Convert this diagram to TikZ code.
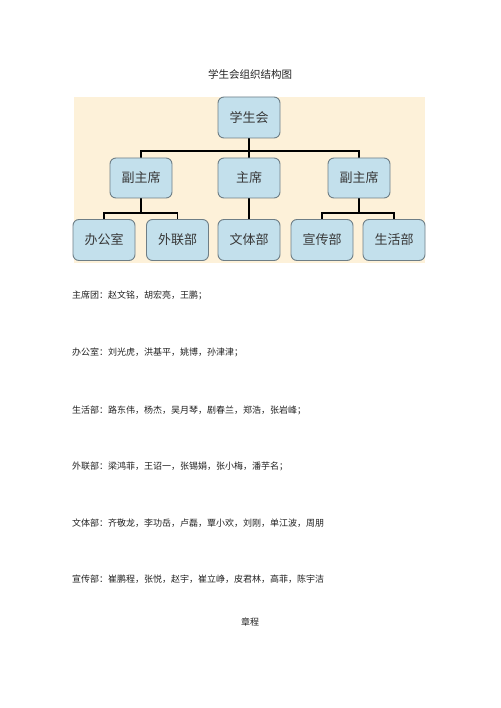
\documentclass[tikz,border=0pt]{standalone}
\usepackage{fontspec}
\setmainfont{Noto Sans CJK SC}
\definecolor{bgbeige}{HTML}{FDF1D9}
\definecolor{boxfill}{HTML}{C3E0EC}
\definecolor{boxline}{HTML}{6E7E86}
\definecolor{txt}{HTML}{222222}
\pgfdeclarelayer{paper}
\pgfdeclarelayer{lines}
\pgfsetlayers{paper,lines,main}
\tikzset{
  orgbox/.style={draw=boxline, line width=0.9pt, fill=boxfill, rounded corners=6pt,
    minimum width=62pt, minimum height=41pt, inner sep=0pt, font=\fontsize{13}{13}\selectfont, text=txt!90},
  midbox/.style={orgbox, minimum height=40pt},
  link/.style={draw=black, line width=1.5pt},
  body/.style={anchor=west, inner sep=0pt, font=\fontsize{9}{9}\selectfont, text=txt}
}
\begin{document}
\begin{tikzpicture}[x=1pt,y=-1pt]
\useasboundingbox (0,0) rectangle (500,708);
\begin{pgfonlayer}{paper}
\fill[white] (0,0) rectangle (500,708);
\fill[bgbeige] (74,97) rectangle (425,263);
\end{pgfonlayer}
\node[inner sep=0pt, font=\fontsize{10.5}{10.5}\selectfont, text=txt] (title) at (250,74) {学生会组织结构图};
% nodes
\node[orgbox] (root) at (249,117.5) {学生会};
\node[midbox] (vpL) at (141,178) {副主席};
\node[midbox] (chair) at (249,178) {主席};
\node[midbox] (vpR) at (359,178) {副主席};
\node[orgbox] (office) at (104,240) {办公室};
\node[orgbox] (liaison) at (177.5,240) {外联部};
\node[orgbox] (culture) at (249,240) {文体部};
\node[orgbox] (publicity) at (322,240) {宣传部};
\node[orgbox] (life) at (394,240) {生活部};
% connectors
\coordinate (topbar) at (249,151);
\coordinate (leftbar) at (141,213);
\coordinate (rightbar) at (359,213);
\begin{pgfonlayer}{lines}
\draw[link] (root.south) -- (topbar);
\draw[link] (vpL.north) |- (topbar) -| (vpR.north);
\draw[link] (chair.north) -- (topbar);
\draw[link] (vpL.south) -- (leftbar);
\draw[link] (office.north) |- (leftbar) -| (liaison.north);
\draw[link] (chair.south) -- (culture.north);
\draw[link] (vpR.south) -- (rightbar);
\draw[link] (publicity.north) |- (rightbar) -| (life.north);
\end{pgfonlayer}
% body text
\node[body] (l1) at (72,295) {主席团：赵文铭，胡宏亮，王鹏；};
\node[body] (l2) at (72,352) {办公室：刘光虎，洪基平，姚博，孙津津；};
\node[body] (l3) at (72,410) {生活部：路东伟，杨杰，吴月琴，剧春兰，郑浩，张岩峰；};
\node[body] (l4) at (72,466) {外联部：梁鸿菲，王诏一，张锡娟，张小梅，潘芋名；};
\node[body] (l5) at (72,523) {文体部：齐敬龙，李功岳，卢磊，覃小欢，刘刚，单江波，周朋};
\node[body] (l6) at (72,579) {宣传部：崔鹏程，张悦，赵宇，崔立峥，皮君林，高菲，陈宇洁};
\node[inner sep=0pt, font=\fontsize{9}{9}\selectfont, text=txt] (charter) at (250,622) {章程};
\end{tikzpicture}
\end{document}
